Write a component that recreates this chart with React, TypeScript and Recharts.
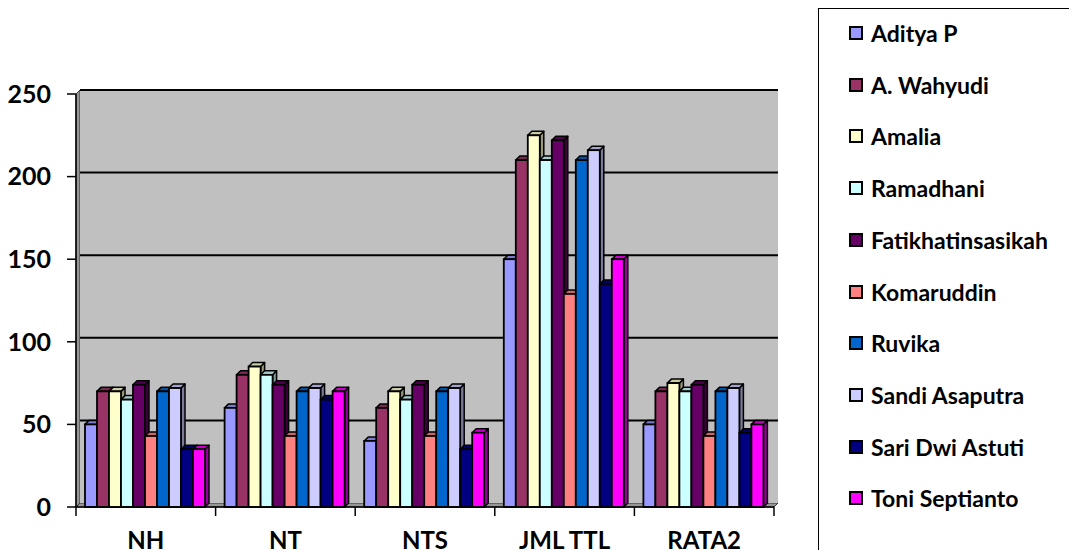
import React from 'react';
import { BarChart, Bar, XAxis, YAxis, CartesianGrid } from 'recharts';

const categories = ['NH', 'NT', 'NTS', 'JML TTL', 'RATA2'];
const students = [
  'Aditya P',
  'A. Wahyudi',
  'Amalia',
  'Ramadhani',
  'Fatikhatinsasikah',
  'Komaruddin',
  'Ruvika',
  'Sandi Asaputra',
  'Sari Dwi Astuti',
  'Toni Septianto',
];
const colors = ['#9999FF', '#993366', '#FFFFCC', '#CCFFFF', '#660066', '#FF8080', '#0066CC', '#CCCCFF', '#000080', '#FF00FF'];

// scores per category, in the same order as students
const nh = [50, 70, 70, 65, 74, 43, 70, 72, 35, 35];
const nt = [60, 80, 85, 80, 74, 43, 70, 72, 65, 70];
const nts = [40, 60, 70, 65, 74, 43, 70, 72, 35, 45];
const jmlTtl = [150, 210, 225, 210, 222, 129, 210, 216, 135, 150];
const rata2 = [50, 70, 75, 70, 74, 43, 70, 72, 45, 50];
const yTicks = [0, 50, 100, 150, 200, 250];

const byCategory = [nh, nt, nts, jmlTtl, rata2];
const data = categories.map((name, i) => {
  const row: Record<string, string | number> = { name };
  students.forEach((_, j) => {
    row['s' + j] = byCategory[i][j];
  });
  return row;
});

const W = 1069;
const H = 550;
const LEFT = 76;
const TOP = 94;
const RIGHT = 295;
const BOTTOM = 43;
const PLOT_W = W - LEFT - RIGHT;
const AXIS_Y = H - BOTTOM;
const DEPTH = 4;
const FONT = 'Lato, "Open Sans", sans-serif';

const shade = (hex: string, k: number) => {
  const n = parseInt(hex.slice(1), 16);
  const c = [(n >> 16) & 255, (n >> 8) & 255, n & 255].map((v) => Math.round(v * k));
  return `rgb(${c[0]},${c[1]},${c[2]})`;
};

// front face plus top and side faces for a boxy look
const Bar3D = (props: any) => {
  const { x, y, width, height, fill } = props;
  if (!height || height <= 0) return null;
  const d = DEPTH;
  return (
    <g>
      <polygon
        points={`${x + width},${y} ${x + width + d},${y - d} ${x + width + d},${y + height - d} ${x + width},${y + height}`}
        fill={shade(fill, 0.6)}
        stroke="#000"
        strokeWidth={1.5}
        strokeLinejoin="round"
      />
      <polygon
        points={`${x},${y} ${x + d},${y - d} ${x + width + d},${y - d} ${x + width},${y}`}
        fill={shade(fill, 0.8)}
        stroke="#000"
        strokeWidth={1.5}
        strokeLinejoin="round"
      />
      <rect x={x} y={y} width={width} height={height} fill={fill} stroke="#000" strokeWidth={1.8} />
    </g>
  );
};

const CategoryTick = (props: any) => {
  const { x, y, payload, index } = props;
  const half = PLOT_W / categories.length / 2;
  return (
    <g>
      <line x1={x - half} y1={y} x2={x - half} y2={y + 9} stroke="#000" strokeWidth={1.5} />
      {index === categories.length - 1 && (
        <line x1={x + half} y1={y} x2={x + half} y2={y + 9} stroke="#000" strokeWidth={1.5} />
      )}
      <text x={x} y={y + 42} textAnchor="middle" fontSize={24} fontWeight="bold" fontFamily={FONT} fill="#000">
        {payload.value}
      </text>
    </g>
  );
};

const gridLines = ({ yAxis, offset }: any) =>
  yTicks
    .filter((t) => t > 0)
    .map((t) => {
      const s = yAxis && yAxis.scale;
      const py = typeof s === 'function' ? s(t) : offset.top + offset.height * (1 - t / 250);
      return py - DEPTH;
    });

function Legend() {
  return (
    <div
      style={{
        position: 'absolute',
        left: 818,
        top: 8,
        width: 320,
        height: 620,
        border: '1px solid #000',
        background: '#fff',
        fontFamily: FONT,
        fontWeight: 'bold',
        fontSize: 23,
      }}
    >
      {students.map((s, i) => (
        <div
          key={s}
          style={{ position: 'absolute', left: 30, top: 33 + i * 51.7 - 9 - 12, height: 24, lineHeight: '24px', whiteSpace: 'nowrap' }}
        >
          <span
            style={{
              position: 'absolute',
              left: 0,
              top: 5,
              width: 10,
              height: 10,
              border: '2px solid #000',
              background: colors[i],
            }}
          />
          <span style={{ position: 'absolute', left: 22, top: 0, color: '#000' }}>{s}</span>
        </div>
      ))}
    </div>
  );
}

export default function App() {
  return (
    <div style={{ position: 'absolute', left: 0, top: 0, width: W, height: H, overflow: 'hidden', background: '#fff' }}>
      <svg width={W} height={H} style={{ position: 'absolute', left: 0, top: 0 }}>
        {/* side wall and floor */}
        <polygon points={`${LEFT},${TOP} ${LEFT + DEPTH},${TOP - DEPTH} ${LEFT + DEPTH},${AXIS_Y - DEPTH} ${LEFT},${AXIS_Y}`} fill="#969696" stroke="#333" strokeWidth={1} />
        <polygon points={`${LEFT},${AXIS_Y} ${LEFT + DEPTH},${AXIS_Y - DEPTH} ${LEFT + PLOT_W + DEPTH},${AXIS_Y - DEPTH} ${LEFT + PLOT_W},${AXIS_Y}`} fill="#969696" stroke="#333" strokeWidth={1} />
      </svg>
      <div style={{ position: 'absolute', left: 0, top: 0 }}>
        <BarChart
          width={W}
          height={H}
          data={data}
          margin={{ top: TOP, right: RIGHT, left: 0, bottom: 0 }}
          barCategoryGap={9}
          barGap={0}
        >
          <CartesianGrid
            x={LEFT + DEPTH}
            y={TOP - DEPTH}
            width={PLOT_W}
            height={AXIS_Y - TOP}
            vertical={false}
            fill="#C0C0C0"
            fillOpacity={1}
            stroke="#000"
            strokeWidth={2}
            horizontalCoordinatesGenerator={gridLines}
          />
          <XAxis
            dataKey="name"
            height={BOTTOM}
            tickSize={0}
            tickMargin={0}
            tickLine={false}
            axisLine={{ stroke: '#000', strokeWidth: 1.5 }}
            tick={<CategoryTick />}
            interval={0}
          />
          <YAxis
            width={LEFT}
            domain={[0, 250]}
            ticks={yTicks}
            interval={0}
            tickSize={9}
            tickMargin={16}
            axisLine={{ stroke: '#000', strokeWidth: 1.5 }}
            tickLine={{ stroke: '#000', strokeWidth: 1.5 }}
            tick={{ fill: '#000', fontSize: 25, fontWeight: 'bold', fontFamily: FONT }}
          />
          {students.map((s, i) => (
            <Bar key={s} dataKey={'s' + i} name={s} fill={colors[i]} shape={<Bar3D />} isAnimationActive={false} />
          ))}
        </BarChart>
      </div>
      <Legend />
    </div>
  );
}
